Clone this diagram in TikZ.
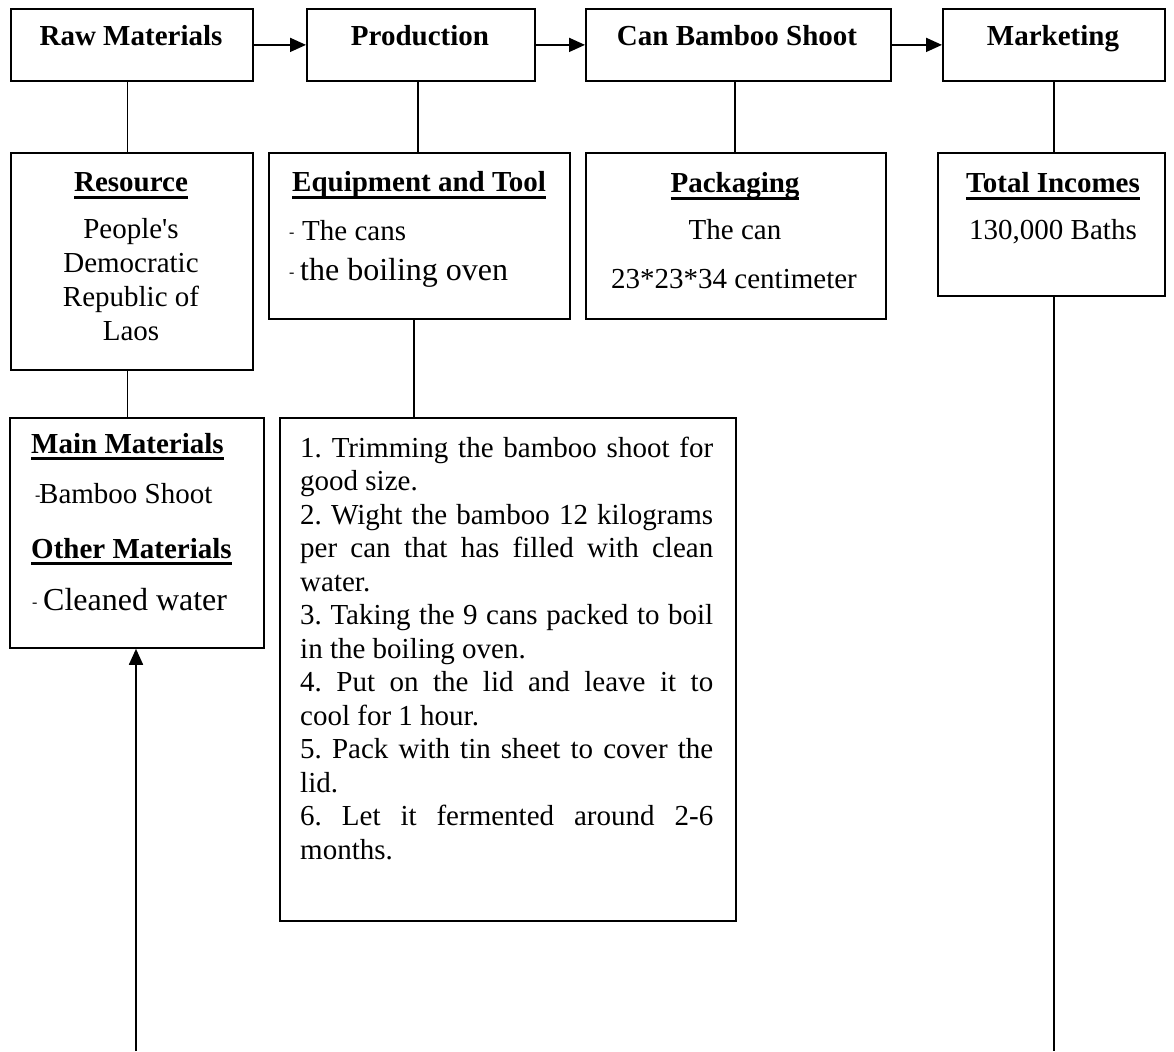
\documentclass[tikz,border=0pt]{standalone}
\usepackage{fontspec}
\setmainfont{Liberation Serif}
\usetikzlibrary{arrows.meta}
% thick rule under a heading
\newcommand\hdline[1]{\setbox0\hbox{#1}\rlap{\rule[-7pt]{\wd0}{2.8pt}}\box0}
% small dash used as a list marker
\newcommand\tick[1]{\makebox[#1][l]{\raisebox{3pt}{\fontsize{16}{16}\selectfont-}}}
\begin{document}
\begin{tikzpicture}[x=1pt,y=-1pt,
  box/.style={draw,line width=1.8pt,rectangle,inner sep=0pt,anchor=north west},
  txt/.style={inner sep=0pt,font=\fontsize{29}{34}\selectfont},
  hd/.style={inner sep=0pt,font=\fontsize{29}{34}\selectfont\bfseries},
  link/.style={line width=1.8pt},
  arr/.style={line width=1.8pt,-{Triangle[length=16pt,width=14pt]}}]
\useasboundingbox (0,0) rectangle (1174,1051);

% top row
\node[box,minimum width=242pt,minimum height=72pt] (raw) at (10,8) {};
\node[box,minimum width=228pt,minimum height=72pt] (prod) at (306,8) {};
\node[box,minimum width=305pt,minimum height=72pt] (can) at (585,8) {};
\node[box,minimum width=222pt,minimum height=72pt] (mkt) at (942,8) {};
\node[hd,anchor=base] (rawT) at (131,46) {Raw Materials};
\node[hd,anchor=base] (prodT) at (420,46) {Production};
\node[hd,anchor=base] (canT) at (737,46) {Can Bamboo Shoot};
\node[hd,anchor=base] (mktT) at (1053,46) {Marketing};

% second row
\node[box,minimum width=242pt,minimum height=217pt] (res) at (10,152) {};
\node[box,minimum width=301pt,minimum height=166pt] (equip) at (268,152) {};
\node[box,minimum width=300pt,minimum height=166pt] (pack) at (585,152) {};
\node[box,minimum width=227pt,minimum height=143pt] (income) at (937,152) {};

\node[hd,anchor=base] (resH) at (131,192) {\hdline{Resource}};
\node[txt,anchor=base] (res1) at (131,238) {People\textquotesingle s};
\node[txt,anchor=base] (res2) at (131,272) {Democratic};
\node[txt,anchor=base] (res3) at (131,306) {Republic of};
\node[txt,anchor=base] (res4) at (131,340) {Laos};

\node[hd,anchor=base] (equipH) at (419,192) {\hdline{Equipment and Tool}};
\node[txt,anchor=base west] (equip1) at (289,240) {\tick{13pt}The cans};
\node[txt,anchor=base west] (equip2) at (289,280) {\tick{11pt}\fontsize{32}{32}\selectfont the boiling oven};

\node[hd,anchor=base] (packH) at (735,193) {\hdline{Packaging}};
\node[txt,anchor=base] (pack1) at (735,239) {The can};
\node[txt,anchor=base] (pack2) at (734,288) {23*23*34 centimeter};

\node[hd,anchor=base] (incH) at (1053,193) {\hdline{Total Incomes}};
\node[txt,anchor=base] (inc1) at (1053,239) {130,000 Baths};

% third row
\node[box,minimum width=254pt,minimum height=230pt] (mainmat) at (9,417) {};
\node[box,minimum width=456pt,minimum height=503pt] (steps) at (279,417) {};

\node[hd,anchor=base west] (mainH) at (31,453) {\hdline{Main Materials}};
\node[txt,anchor=base west] (main1) at (35,503) {\tick{4pt}Bamboo Shoot};
\node[hd,anchor=base west] (otherH) at (31,558) {\hdline{Other Materials}};
\node[txt,anchor=base west] (other1) at (32,610) {\tick{11pt}\fontsize{32}{32}\selectfont Cleaned water};

\node[txt,anchor=base west,text width=413pt,align=justify] (stepsT) at (300,457) {%
\fontsize{29}{33.5}\selectfont\frenchspacing\tolerance 9999\relax
1. Trimming the bamboo shoot for\linebreak good size.\par
2. Wight the bamboo 12 kilograms\linebreak per can that has filled with clean\linebreak water.\par
3. Taking the 9 cans packed to boil\linebreak in the boiling oven.\par
4. Put on the lid and leave it to\linebreak cool for 1 hour.\par
5. Pack with tin sheet to cover the\linebreak lid.\par
6. Let it fermented around 2-6\linebreak months.\par};

% connectors
\draw[arr] (raw.east) -- (prod.west);
\draw[arr] (prod.east) -- (can.west);
\draw[arr] (can.east) -- (mkt.west);

\coordinate (k1) at (127.5,0);
\coordinate (k2) at (418,0);
\coordinate (k3) at (735,0);
\coordinate (k4) at (1054,0);
\coordinate (k6) at (414,0);
\draw[link] (raw.south -| k1) -- (res.north -| k1);
\draw[link] (prod.south -| k2) -- (equip.north -| k2);
\draw[link] (can.south -| k3) -- (pack.north -| k3);
\draw[link] (mkt.south -| k4) -- (income.north -| k4);
\draw[link] (res.south -| k1) -- (mainmat.north -| k1);
\draw[link] (equip.south -| k6) -- (steps.north -| k6);

\coordinate (src) at (136,1051);
\coordinate (sink) at (1054,1051);
\draw[arr] (src) -- (mainmat.south -| src);
\draw[link] (income.south -| sink) -- (sink);
\end{tikzpicture}
\end{document}
